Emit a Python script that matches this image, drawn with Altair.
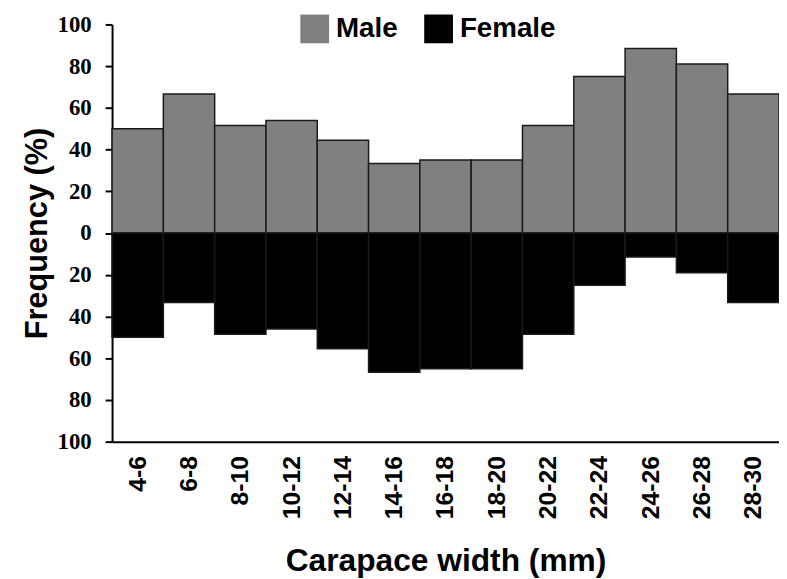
import altair as alt
import pandas as pd

categories = ["4-6", "6-8", "8-10", "10-12", "12-14", "14-16", "16-18",
              "18-20", "20-22", "22-24", "24-26", "26-28", "28-30"]
male = [50, 66.7, 51.5, 54, 44.5, 33.3, 35, 35, 51.5, 75, 88.5, 81, 66.7]
female = [50, 33.3, 48.5, 46, 55.5, 66.7, 65, 65, 48.5, 25, 11.5, 19, 33.3]

rows = []
for c, m, f in zip(categories, male, female):
    rows.append({"width": c, "sex": "Male", "value": m})
    rows.append({"width": c, "sex": "Female", "value": -f})
df = pd.DataFrame(rows)

chart = alt.Chart(df).mark_bar(stroke="#1a1a1a", strokeWidth=1.5).encode(
    x=alt.X("width:N", sort=categories,
            scale=alt.Scale(paddingInner=0, paddingOuter=0),
            axis=alt.Axis(title="Carapace width (mm)", labelAngle=-90,
                          labelFont="Liberation Sans", labelFontWeight="bold",
                          labelFontSize=25, labelColor="black", labelPadding=14,
                          ticks=False, domainColor="black", domainWidth=2,
                          titleFont="Liberation Sans", titleFontWeight="bold",
                          titleFontSize=32, titleColor="black", titlePadding=27)),
    y=alt.Y("value:Q", scale=alt.Scale(domain=[-100, 100], nice=False),
            axis=alt.Axis(title="Frequency (%)", values=list(range(-100, 101, 20)),
                          labelExpr="abs(datum.value)",
                          labelFont="Times New Roman, Liberation Serif, serif",
                          labelFontWeight="bold",
                          labelFontSize=23, labelColor="black", labelPadding=14,
                          tickSize=7, tickWidth=2, tickColor="black",
                          domainColor="black", domainWidth=2, grid=False,
                          titleFont="Liberation Sans", titleFontWeight="bold",
                          titleFontSize=31, titleColor="black", titlePadding=4)),
    color=alt.Color("sex:N",
                    scale=alt.Scale(domain=["Male", "Female"], range=["#808080", "#000000"]),
                    legend=alt.Legend(title=None, orient="none", direction="horizontal",
                                      legendX=190, legendY=-10, symbolType="square",
                                      symbolSize=841, symbolStrokeWidth=0,
                                      labelFont="Liberation Sans", labelFontWeight="bold",
                                      labelFontSize=28, labelColor="black",
                                      labelOffset=7, columnPadding=26, padding=0)),
).properties(
    width=673, height=421,
    autosize=alt.AutoSizeParams(type="none"),
    padding={"left": 105, "top": 14, "right": 0, "bottom": 136},
).configure_view(stroke=None)

chart.save("out.html", embed_options={"renderer": "svg", "actions": False})
